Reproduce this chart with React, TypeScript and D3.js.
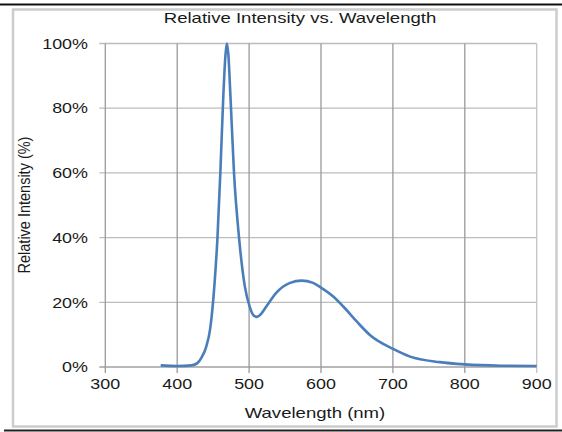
import React from "react";
import * as d3 from "d3";

const wavelengths = [377, 400, 420, 428, 434, 440, 446, 452, 456, 460, 464, 467, 469, 471, 474, 479, 486, 494, 501, 506, 511, 517, 524, 538, 557, 573, 589, 601, 617, 631, 650, 668, 701, 724, 765, 800, 850, 900];
const intensity = [0.5, 0.3, 0.5, 1.2, 3, 6, 12, 26, 40, 60, 83, 96, 100, 97, 84, 60, 40, 25, 18.5, 16, 15.5, 16.5, 18.7, 23, 26, 26.7, 26, 24.4, 21.8, 18.7, 14, 9.9, 5.5, 3.2, 1.5, 0.8, 0.4, 0.3];
const xTicks = [300, 400, 500, 600, 700, 800, 900];
const yTicks = [0, 20, 40, 60, 80, 100];
const title = "Relative Intensity vs. Wavelength";
const xTitle = "Wavelength (nm)";
const yTitle = "Relative Intensity (%)";

const W = 562, H = 432;
const left = 105.3, right = 536.7, top = 43.5, bottom = 367;
const SX = 1.28;
const FONT = "'Liberation Sans', Arial, sans-serif";

export default function App() {
  const x = d3.scaleLinear().domain([300, 900]).range([left, right]);
  const y = d3.scaleLinear().domain([0, 100]).range([bottom, top]);
  const pts = wavelengths.map((w, i) => [w, intensity[i]] as [number, number]);
  const line = d3.line<[number, number]>().x(d => x(d[0])).y(d => y(d[1])).curve(d3.curveMonotoneX);

  const txt = (tx: number, ty: number, s: string, size: number, anchor: string, key?: string, rot = false, sx = SX) => (
    <text key={key} transform={`translate(${tx},${ty}) scale(${sx},1)${rot ? " rotate(-90)" : ""}`}
      fontFamily={FONT} fontSize={size} fill="#1a1a1a" textAnchor={anchor} dominantBaseline="central">{s}</text>
  );

  return (
    <svg width={W} height={H} style={{ position: "fixed", left: 0, top: 0, background: "#fff" }}>
      <rect x={0} y={0} width={W} height={H} fill="#fff" />
      <line x1={0} x2={W} y1={4.5} y2={4.5} stroke="#111" strokeWidth={2} />
      <line x1={4} x2={W} y1={430.5} y2={430.5} stroke="#222" strokeWidth={2} />
      <rect x={13} y={9.5} width={543.5} height={417} fill="none" stroke="#cccccc" strokeWidth={2.5} />
      {yTicks.map(t => (
        <line key={"hy" + t} x1={left - 6} x2={right} y1={y(t)} y2={y(t)} stroke={t === 0 ? "#a0a0a0" : "#bdbdbd"} strokeWidth={1.3} />
      ))}
      {xTicks.map(t => (
        <line key={"vx" + t} x1={x(t)} x2={x(t)} y1={top} y2={bottom + 6} stroke={t === 900 ? "#c4c4c4" : "#9a9a9a"} strokeWidth={1.3} />
      ))}
      <path d={line(pts) || ""} fill="none" stroke="#4a7ebb" strokeWidth={2.6} strokeLinejoin="round" />
      {yTicks.map(t => txt(88, y(t), `${t}%`, 14, "end", "ly" + t))}
      {xTicks.map(t => txt(x(t), 384, `${t}`, 14, "middle", "lx" + t))}
      {txt(300, 18, title, 14.5, "middle", "title")}
      {txt(315, 413, xTitle, 14.5, "middle", "xt")}
      {txt(24, 205, yTitle, 14.5, "middle", "yt", true, 1.15)}
    </svg>
  );
}
